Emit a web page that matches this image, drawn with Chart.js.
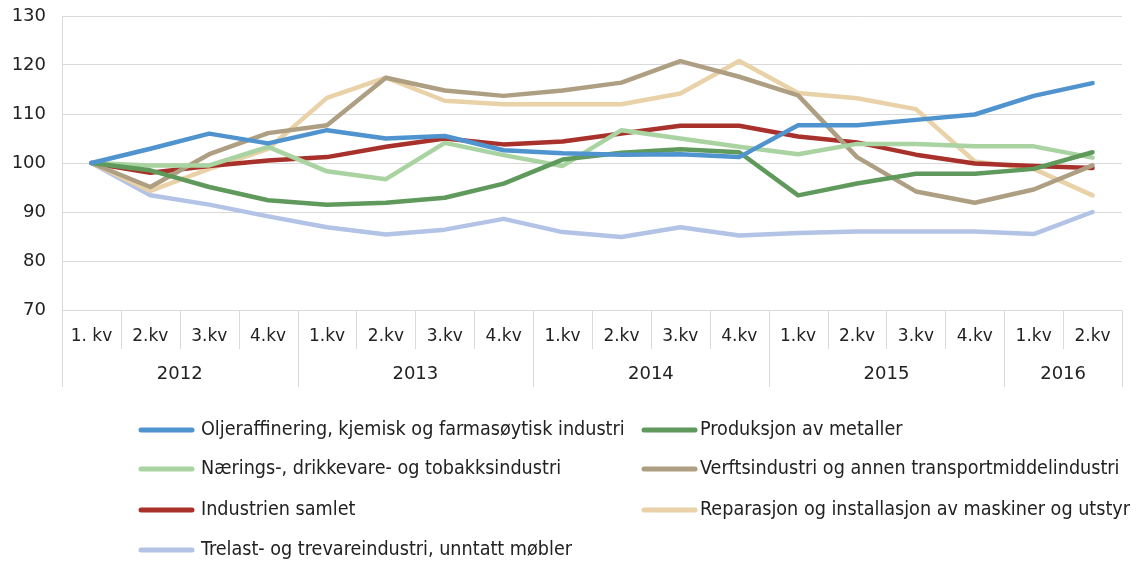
<!DOCTYPE html>
<html><head><meta charset="utf-8">
<script src="https://cdn.jsdelivr.net/npm/chart.js@4/dist/chart.umd.min.js"></script>
<style>html,body{margin:0;padding:0;background:#fff}#wrap{width:1141px;height:562px;position:relative}</style>
</head><body><div id="wrap"><canvas id="c" width="1141" height="562"></canvas></div>
<script>
const quarters = ['1. kv','2.kv','3.kv','4.kv','1.kv','2.kv','3.kv','4.kv','1.kv','2.kv','3.kv','4.kv','1.kv','2.kv','3.kv','4.kv','1.kv','2.kv'];
const years = ['2012','2013','2014','2015','2016'];
const yearSpans = [4,4,4,4,2];
const yTicks = [70,80,90,100,110,120,130];

const olje = [100,102.9,106.0,104.0,106.7,105.0,105.5,102.6,102.0,101.7,101.8,101.2,107.7,107.7,108.8,109.9,113.7,116.3];
const metaller = [100,98.5,95.1,92.4,91.5,91.9,92.9,95.8,100.7,102.1,102.8,102.2,93.4,95.8,97.8,97.8,98.8,102.2];
const naering = [100,99.5,99.5,103.3,98.3,96.7,104.1,101.6,99.4,106.7,105.0,103.3,101.8,103.9,103.9,103.4,103.4,101.1];
const verft = [100,95.1,101.8,106.1,107.7,117.4,114.8,113.7,114.8,116.4,120.8,117.6,113.8,101.2,94.2,91.9,94.6,99.5];
const samlet = [100,98.0,99.4,100.5,101.2,103.3,105.0,103.8,104.4,106.0,107.6,107.6,105.4,104.2,101.7,99.9,99.4,99.0];
const reparasjon = [100,94.3,98.8,102.9,113.3,117.4,112.7,112.0,112.0,112.0,114.2,120.8,114.3,113.2,111.0,100.3,98.8,93.4];
const trelast = [100,93.4,91.5,89.1,86.9,85.4,86.4,88.6,85.9,84.9,86.9,85.2,85.7,86.0,86.0,86.0,85.5,90.0];

const seriesNames = ['Oljeraffinering, kjemisk og farmasøytisk industri','Produksjon av metaller','Nærings-, drikkevare- og tobakksindustri','Verftsindustri og annen transportmiddelindustri','Industrien samlet','Reparasjon og installasjon av maskiner og utstyr','Trelast- og trevareindustri, unntatt møbler'];
const seriesData = [olje, metaller, naering, verft, samlet, reparasjon, trelast];
const seriesColors = ['#4f93cf','#5f9a5c','#a9d3a1','#ae9f83','#a8312b','#e9d1a8','#b2c3e6'];

const AXISFONT = '"DejaVu Sans",Verdana,sans-serif';
const LEGFONT = '"DejaVu Sans Condensed",sans-serif';
const GRID = '#d9d9d9';

const axisPlugin = {
  id: 'multiAxis',
  afterDraw(chart) {
    const ctx = chart.ctx, xs = chart.scales.x, area = chart.chartArea;
    const step = xs.getPixelForValue(1) - xs.getPixelForValue(0);
    const bx = i => xs.getPixelForValue(0) - step/2 + i*step;
    ctx.save();
    ctx.strokeStyle = GRID; ctx.lineWidth = 1;
    const bottom = Math.round(area.bottom) + 0.5;
    const yearB = new Set([0]); let acc = 0; yearSpans.forEach(s => { acc += s; yearB.add(acc); });
    for (let i = 0; i <= quarters.length; i++) {
      const x = Math.round(bx(i)) + 0.5;
      ctx.beginPath(); ctx.moveTo(x, bottom); ctx.lineTo(x, yearB.has(i) ? 387 : 349); ctx.stroke();
    }
    ctx.fillStyle = '#222'; ctx.font = '18px ' + AXISFONT; ctx.textAlign = 'center'; ctx.textBaseline = 'middle';
    acc = 0;
    yearSpans.forEach((s, k) => { const cx = (bx(acc) + bx(acc + s)) / 2; ctx.fillText(years[k], cx, 374); acc += s; });
    // legend
    ctx.font = '19.6px ' + LEGFONT; ctx.textAlign = 'left';
    const cols = [[141,192,201],[644,695,700]];
    const rows = [430,469,510,550];
    chart.data.datasets.forEach((ds, i) => {
      const c = cols[i % 2], r = rows[Math.floor(i / 2)];
      ctx.strokeStyle = ds.borderColor; ctx.lineWidth = 5; ctx.lineCap = 'round';
      ctx.beginPath(); ctx.moveTo(c[0], r); ctx.lineTo(c[1], r); ctx.stroke();
      ctx.fillStyle = '#222'; ctx.fillText(ds.label, c[2], r);
    });
    ctx.restore();
  }
};

new Chart(document.getElementById('c'), {
  type: 'line',
  data: {
    labels: quarters,
    datasets: seriesNames.map((n, i) => ({
      label: n, data: seriesData[i], borderColor: seriesColors[i], backgroundColor: seriesColors[i],
      borderWidth: 4.5, pointRadius: 0, tension: 0, borderJoinStyle: 'round', borderCapStyle: 'round', fill: false
    }))
  },
  options: {
    responsive: false, animation: false,
    layout: { padding: { top: 16, right: 19, left: 0, bottom: 0 } },
    plugins: { legend: { display: false }, tooltip: { enabled: false } },
    scales: {
      x: {
        offset: true,
        grid: { display: false },
        border: { display: false },
        ticks: { color: '#222', font: { size: 17, family: AXISFONT }, padding: 8, maxRotation: 0, autoSkip: false },
        afterFit(s) { s.height = 252; }
      },
      y: {
        min: 70, max: 130,
        afterBuildTicks(s) { s.ticks = yTicks.map(v => ({ value: v })); },
        grid: { color: GRID, drawTicks: false, lineWidth: 1 },
        border: { display: true, color: GRID },
        ticks: { color: '#222', font: { size: 18, family: AXISFONT }, padding: 16 },
        afterFit(s) { s.width = 62; s.paddingTop = 0; s.paddingBottom = 0; }
      }
    }
  },
  plugins: [axisPlugin]
});
</script></body></html>
